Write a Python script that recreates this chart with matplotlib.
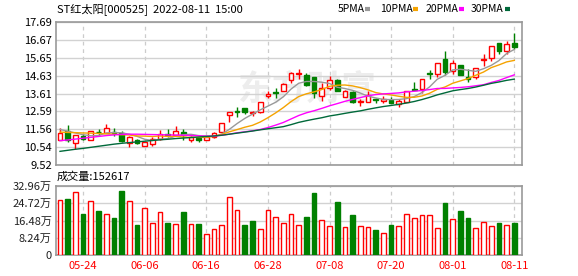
import numpy as np
import pandas as pd
import matplotlib
matplotlib.use('Agg')
import matplotlib.pyplot as plt
from matplotlib.lines import Line2D

plt.rcParams['font.family'] = ['Noto Sans CJK SC', 'DejaVu Sans']

# daily candles 2022-05-19 .. 2022-08-11
opens = [10.92, 11.44, 10.77, 11.16, 10.97, 11.40, 11.36, 11.42, 11.32, 10.77,
         10.93, 10.58, 10.71, 11.01, 11.27, 11.21, 11.40, 10.92, 11.05, 10.94,
         11.10, 11.43, 12.35, 12.60, 12.80, 12.48, 12.52, 13.49, 13.69, 13.73,
         14.39, 14.72, 14.67, 14.52, 13.46, 13.93, 14.39, 13.42, 13.68, 13.11,
         13.13, 13.28, 13.18, 13.24, 12.98, 13.13, 13.89, 13.85, 14.75, 14.74,
         15.59, 14.89, 15.21, 14.52, 14.52, 15.52, 15.65, 16.50, 16.01, 16.50]
closes = [11.32, 10.92, 11.21, 11.01, 11.49, 11.38, 11.66, 11.36, 10.90, 11.10,
          10.77, 10.82, 11.01, 11.29, 11.23, 11.47, 11.24, 11.14, 10.92, 11.10,
          11.34, 11.92, 12.52, 12.56, 12.57, 12.56, 13.13, 13.60, 13.65, 14.14,
          14.76, 14.80, 14.11, 13.65, 13.93, 14.39, 13.74, 13.74, 13.13, 13.15,
          13.50, 13.24, 13.31, 13.09, 13.18, 13.74, 13.82, 14.46, 14.72, 15.37,
          14.84, 15.37, 14.65, 14.42, 15.08, 15.58, 16.33, 16.01, 16.44, 16.25]
highs = [11.62, 11.79, 11.21, 11.29, 11.49, 11.60, 11.88, 11.66, 11.47, 11.16,
         11.01, 10.82, 11.10, 11.51, 11.57, 11.72, 11.56, 11.20, 11.12, 11.14,
         11.40, 11.92, 12.52, 12.85, 12.80, 12.61, 13.13, 13.73, 13.92, 14.20,
         14.85, 14.98, 14.80, 14.52, 14.20, 14.61, 14.43, 13.83, 13.74, 13.31,
         13.74, 13.37, 13.46, 13.42, 13.28, 13.76, 14.27, 14.46, 14.93, 15.37,
         16.01, 15.50, 15.21, 15.03, 15.08, 15.84, 16.33, 16.50, 16.58, 17.05]
lows = [10.92, 10.83, 10.45, 10.97, 10.97, 11.16, 11.36, 11.20, 10.83, 10.54,
        10.73, 10.58, 10.58, 10.97, 11.10, 11.16, 10.97, 10.86, 10.82, 10.92,
        11.05, 11.40, 11.96, 12.24, 12.46, 12.33, 12.50, 13.36, 13.36, 13.73,
        14.20, 14.43, 14.05, 13.37, 13.18, 13.83, 13.74, 13.42, 13.09, 12.87,
        13.13, 13.05, 13.09, 13.05, 12.81, 13.10, 13.80, 13.61, 14.46, 14.55,
        14.65, 14.74, 14.65, 14.27, 14.46, 15.18, 15.46, 15.88, 15.88, 16.16]

# volume in shares, bar colour as shown (r = up, g = down)
volumes = [263000, 267000, 299000, 196000, 256000, 210000, 196000, 177000, 306000, 256000,
           143000, 223000, 151000, 204000, 153000, 146000, 205000, 146000, 148000, 99000,
           123000, 142000, 277000, 213000, 143000, 162000, 123000, 213000, 180000, 153000,
           196000, 142000, 181000, 296000, 166000, 137000, 253000, 132000, 191000, 137000,
           132000, 119000, 103000, 143000, 137000, 194000, 175000, 189000, 189000, 127000,
           248000, 170000, 210000, 177000, 127000, 156000, 137000, 153000, 142000, 152617]
vol_colors = list('rgrgrgrggrgrrrgrgrgrrrrrggrrrrrrggrrgrgrrgrgrrrrrrgrggrrrgrg')

# MA values before a full window is available
ma5_head = [11.55, 11.45, 11.35, 11.25]
ma10_head = [11.40, 11.38, 11.37, 11.35, 11.34, 11.32, 11.30, 11.28, 11.25]
ma20_head = [10.91, 10.95, 11.00, 11.05, 11.10, 11.15, 11.20, 11.24, 11.27, 11.28,
             11.28, 11.27, 11.26, 11.25, 11.24, 11.23, 11.22, 11.21, 11.19]
ma30_head = [10.30, 10.36, 10.42, 10.47, 10.53, 10.59, 10.65, 10.71, 10.76, 10.80,
             10.84, 10.88, 10.92, 10.96, 10.99, 11.03, 11.06, 11.09, 11.12, 11.15,
             11.18, 11.22, 11.28, 11.34, 11.40, 11.46, 11.53, 11.59, 11.65]

price_ticks = ['9.52', '10.54', '11.56', '12.59', '13.61', '14.63', '15.65', '16.67', '17.69']
vol_ticks = ['0', '8.24万', '16.48万', '24.72万', '32.96万']
date_labels = ['05-24', '06-06', '06-16', '06-28', '07-08', '07-20', '08-01', '08-11']

df = pd.DataFrame({'open': opens, 'close': closes, 'high': highs, 'low': lows, 'vol': volumes})
n = len(df)
x = np.arange(n)

mas = {}
for w, head in [(5, ma5_head), (10, ma10_head), (20, ma20_head), (30, ma30_head)]:
    m = df['close'].rolling(w).mean().values
    m[:len(head)] = head
    mas[w] = m
ma_colors = {5: '#999999', 10: '#f5a300', 20: '#ff00ff', 30: '#00693a'}

RED = '#ff0000'
GREEN = '#008000'

fig = plt.figure(figsize=(5.78, 2.76), dpi=100)
ax = fig.add_axes([56/578, 1-165/276, 466/578, 143/276])
axv = fig.add_axes([56/578, 1-255/276, 466/578, 69/276])

up = df['close'] > df['open']
cc = np.where(up, RED, GREEN)

# watermark
ax.text(0.54, 0.53, '东方财富', transform=ax.transAxes, fontsize=25, color='#ededed',
        ha='center', va='center', fontweight='bold', zorder=0)

ax.vlines(x, df['low'], df['high'], colors=cc, lw=1.0, zorder=2)
body_lo = np.minimum(df['open'], df['close'])
body_h = np.maximum((df['close'] - df['open']).abs(), 0.03)
ax.bar(x, body_h, bottom=body_lo, width=0.62, color=np.where(up, 'white', GREEN),
       edgecolor=cc, lw=1.0, zorder=3)

for w in [5, 10, 20, 30]:
    ax.plot(x, mas[w], color=ma_colors[w], lw=1.0, zorder=4)

vc = [RED if c == 'r' else GREEN for c in vol_colors]
axv.bar(x, df['vol'], width=0.62, color=[('white' if c == 'r' else GREEN) for c in vol_colors],
        edgecolor=vc, lw=1.0, zorder=3)

tick_pos = [3 + 8 * k for k in range(len(date_labels))]

for a in (ax, axv):
    a.set_xlim(-0.52, 60.0)
    a.grid(axis='y', color='#d2d2d2', lw=1.0, zorder=0)
    for t in tick_pos:
        a.axvline(t, color='#cccccc', lw=0.9, ls=(0, (3, 3)), zorder=0)
    for s in a.spines.values():
        s.set_color('#999999')
        s.set_linewidth(1.2)
    a.tick_params(length=0, labelsize=8, pad=3)
    a.set_axisbelow(True)

ax.set_ylim(9.52, 17.69)
ax.set_yticks(np.linspace(9.52, 17.69, 9))
ax.set_yticklabels(price_ticks)
ax.set_xticks([])

axv.set_ylim(0, 329600)
axv.set_yticks(np.linspace(0, 329600, 5))
axv.set_yticklabels(vol_ticks, color='#222222')
axv.set_xticks(tick_pos)
axv.set_xticklabels(date_labels, color=RED)
axv.tick_params(axis='x', pad=4)

fig.text(57/578, 1-9/276, 'ST红太阳[000525]  2022-08-11  15:00', fontsize=8, va='center')
fig.text(57/578, 1-177/276, '成交量:%d' % volumes[-1], fontsize=8, va='center')

# legend
leg = [('5PMA', 338, 365), ('10PMA', 380, 413), ('20PMA', 426, 459), ('30PMA', 471, 505)]
for (name, tx, lx), w in zip(leg, [5, 10, 20, 30]):
    fig.text(tx/578, 1-9/276, name, fontsize=7.5, va='center')
    fig.add_artist(Line2D([lx/578, (lx+5)/578], [1-9/276, 1-9/276], color=ma_colors[w], lw=3,
                          solid_capstyle='butt'))

fig.savefig('out.png', dpi=100)
